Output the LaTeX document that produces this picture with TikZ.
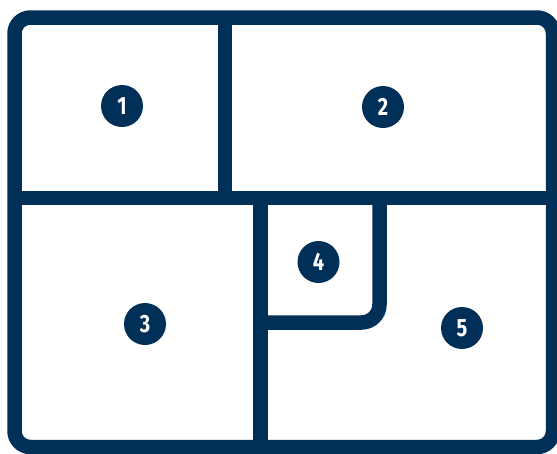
\documentclass[tikz,border=0pt]{standalone}
\usepackage{fontspec}
\usepackage{tikz}
\usetikzlibrary{positioning}
\newfontfamily\numfont[FakeStretch=0.8]{Fira Sans}
\definecolor{navyplan}{RGB}{0,47,88}

\begin{document}
\begin{tikzpicture}[x=1pt, y=-1pt]
        \tikzset{
          wall/.style={draw=navyplan, line width=14.5pt},
          roomnum/.style={circle, fill=navyplan, minimum size=42pt, inner sep=0pt,
                          text=white, font=\numfont\bfseries\fontsize{25}{25}\selectfont}
        }
        \useasboundingbox (0,0) rectangle (557,453);
        \fill[white] (0,0) rectangle (557,453);
        % outer frame
        \draw[wall, rounded corners=16pt] (14.5,17.5) rectangle (553,447);
        % dividers
        \draw[wall] (14.5,198) -- (553,198);
        \draw[wall] (225,17.5) -- (225,198);
        \draw[wall] (260.5,198) -- (260.5,447);
        \draw[wall, rounded corners=18pt] (379.5,198) -- (379.5,322.5) -- (260.5,322.5);
        % room numbers
        \foreach \n/\x/\y in {1/122/106, 2/383/107, 3/145/324, 4/318.5/262, 5/462/328} {
          \node[roomnum] (room\n) at (\x,\y) {\n};
        }
      \end{tikzpicture}
\end{document}
